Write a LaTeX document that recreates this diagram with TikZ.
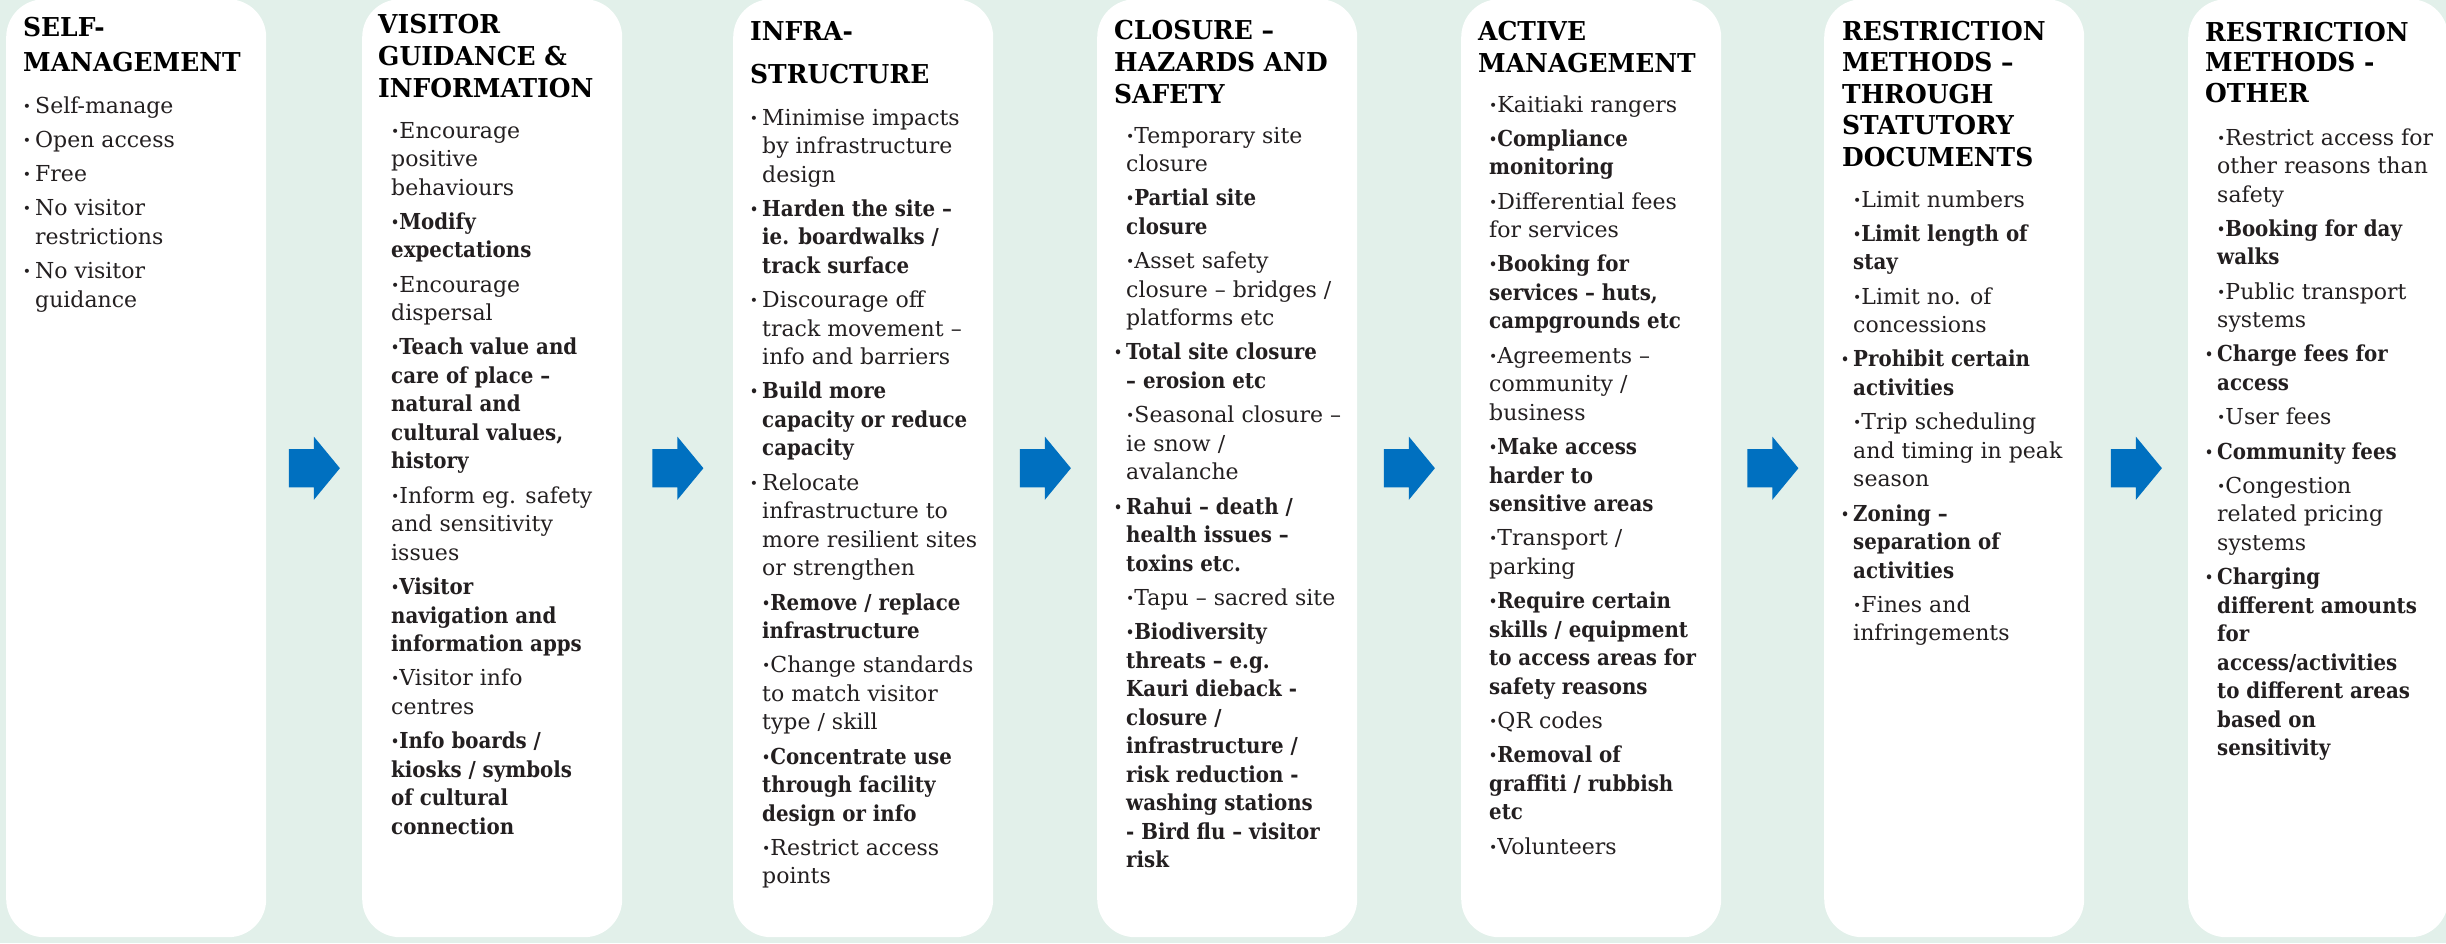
\documentclass[tikz,border=0pt]{standalone}
\usepackage{fontspec}
\usepackage{graphicx}
\setmainfont{DejaVu Serif}
\newfontfamily\condfam{DejaVu Serif}[FakeStretch=0.9]
\newfontfamily\headfam{DejaVu Serif}[FakeStretch=0.96]
\usetikzlibrary{shapes.arrows}
\definecolor{bgmint}{HTML}{E2F0EA}
\definecolor{arrowblue}{HTML}{0070C0}
\definecolor{ink}{HTML}{231F20}
\newcommand\bs{\condfam\bfseries}
\newcommand\bu{\raisebox{2pt}{\fontsize{14}{14}\selectfont •}}
\newcommand\hb{\leavevmode\llap{\bu\hspace{4pt}}}
\newcommand\gap{\\[5.8pt]}
\newcommand\bodytext[1]{\parbox[t]{300pt}{\raggedright\fontsize{22}{28.5}\selectfont #1}}
\newcommand\headtext[2]{\parbox[t]{300pt}{\raggedright\fontsize{26}{#1}\selectfont\headfam\bfseries #2}}
\tikzset{
  panel/.style={fill=white, draw=none, rounded corners=38pt, minimum width=260pt,
    minimum height=938pt, anchor=north west, inner sep=0pt},
  barrow/.style={single arrow, fill=arrowblue, draw=none, inner xsep=0pt, inner ysep=19pt,
    minimum height=51pt, single arrow head extend=12.5pt,
    single arrow tip angle=101, anchor=tail, xshift=-25.5pt},
  txt/.style={anchor=base west, inner sep=0pt, text=ink},
  hd/.style={anchor=base west, inner sep=0pt, text=black}
}
\begin{document}
\begin{tikzpicture}[x=1pt,y=-1pt]
\useasboundingbox (0,0) rectangle (2446,943);
\clip (0,0) rectangle (2446,943);
\fill[bgmint] (0,0) rectangle (2446,943);
% panels
\node[panel] (b1) at (6,-1) {};
\node[panel] (b2) at (362,-1) {};
\node[panel] (b3) at (733,-1) {};
\node[panel] (b4) at (1097,-1) {};
\node[panel] (b5) at (1461,-1) {};
\node[panel] (b6) at (1824,-1) {};
\node[panel] (b7) at (2188,-1) {};
% arrows
\path (b1.east) -- (b2.west) node[barrow, midway] (a1) {};
\path (b2.east) -- (b3.west) node[barrow, midway] (a2) {};
\path (b3.east) -- (b4.west) node[barrow, midway] (a3) {};
\path (b4.east) -- (b5.west) node[barrow, midway] (a4) {};
\path (b5.east) -- (b6.west) node[barrow, midway] (a5) {};
\path (b6.east) -- (b7.west) node[barrow, midway] (a6) {};
% headers
\node[hd] (h1) at (23,36) {\headtext{35pt}{SELF-\\MANAGEMENT}};
\node[hd] (h2) at (378,33) {\headtext{32pt}{VISITOR\\GUIDANCE \&\\INFORMATION}};
\node[hd] (h3) at (750,40) {\headtext{43pt}{INFRA-\\STRUCTURE}};
\node[hd] (h4) at (1114,39) {\headtext{32pt}{CLOSURE –\\HAZARDS AND\\SAFETY}};
\node[hd] (h5) at (1478,40) {\headtext{32pt}{ACTIVE\\MANAGEMENT}};
\node[hd] (h6) at (1842,40) {\headtext{31.5pt}{RESTRICTION\\METHODS –\\THROUGH\\STATUTORY\\DOCUMENTS}};
\node[hd] (h7) at (2205,41) {\headtext{30.5pt}{RESTRICTION\\METHODS -\\OTHER}};
% bodies
\node[txt] (t1) at (35,113) {\bodytext{%
\hb Self-manage\gap
\hb Open access\gap
\hb Free\gap
\hb No visitor\\ restrictions\gap
\hb No visitor\\ guidance}};
\node[txt] (t2) at (391,138) {\bodytext{%
\bu Encourage\\ positive\\ behaviours\gap
{\bs\bu Modify\\ expectations}\gap
\bu Encourage\\ dispersal\gap
{\bs\bu Teach value and\\ care of place –\\ natural and\\ cultural values,\\ history}\gap
\bu Inform eg. safety\\ and sensitivity\\ issues\gap
{\bs\bu Visitor\\ navigation and\\ information apps}\gap
\bu Visitor info\\ centres\gap
{\bs\bu Info boards /\\ kiosks / symbols\\ of cultural\\ connection}}};
\node[txt] (t3) at (762,125) {\bodytext{%
\hb Minimise impacts\\ by infrastructure\\ design\gap
{\bs\hb Harden the site –\\ ie. boardwalks /\\ track surface}\gap
\hb Discourage off\\ track movement –\\ info and barriers\gap
{\bs\hb Build more\\ capacity or reduce\\ capacity}\gap
\hb Relocate\\ infrastructure to\\ more resilient sites\\ or strengthen\gap
{\bs\bu Remove / replace\\ infrastructure}\gap
\bu Change standards\\ to match visitor\\ type / skill\gap
{\bs\bu Concentrate use\\ through facility\\ design or info}\gap
\bu Restrict access\\ points}};
\node[txt] (t4) at (1126,143) {\bodytext{%
\bu Temporary site\\ closure\gap
{\bs\bu Partial site\\ closure}\gap
\bu Asset safety\\ closure – bridges /\\ platforms etc\gap
{\bs\hb Total site closure\\ – erosion etc}\gap
\bu Seasonal closure –\\ ie snow /\\ avalanche\gap
{\bs\hb Rahui – death /\\ health issues –\\ toxins etc.}\gap
\bu Tapu – sacred site\gap
{\bs\bu Biodiversity\\ threats – e.g.\\ Kauri dieback -\\ closure /\\ infrastructure /\\ risk reduction -\\ washing stations\\ - Bird flu – visitor\\ risk}}};
\node[txt] (t5) at (1489,112) {\bodytext{%
\bu Kaitiaki rangers\gap
{\bs\bu Compliance\\ monitoring}\gap
\bu Differential fees\\ for services\gap
{\bs\bu Booking for\\ services – huts,\\ campgrounds etc}\gap
\bu Agreements –\\ community /\\ business\gap
{\bs\bu Make access\\ harder to\\ sensitive areas}\gap
\bu Transport /\\ parking\gap
{\bs\bu Require certain\\ skills / equipment\\ to access areas for\\ safety reasons}\gap
\bu QR codes\gap
{\bs\bu Removal of\\ graffiti / rubbish\\ etc}\gap
\bu Volunteers}};
\node[txt] (t6) at (1853,207) {\bodytext{%
\bu Limit numbers\gap
{\bs\bu Limit length of\\ stay}\gap
\bu Limit no. of\\ concessions\gap
{\bs\hb Prohibit certain\\ activities}\gap
\bu Trip scheduling\\ and timing in peak\\ season\gap
{\bs\hb Zoning –\\ separation of\\ activities}\gap
\bu Fines and\\ infringements}};
\node[txt] (t7) at (2217,145) {\bodytext{%
\bu Restrict access for\\ other reasons than\\ safety\gap
{\bs\bu Booking for day\\ walks}\gap
\bu Public transport\\ systems\gap
{\bs\hb Charge fees for\\ access}\gap
\bu User fees\gap
{\bs\hb Community fees}\gap
\bu Congestion\\ related pricing\\ systems\gap
{\bs\hb Charging\\ different amounts\\ for\\ access/activities\\ to different areas\\ based on\\ sensitivity}}};
\end{tikzpicture}
\end{document}
